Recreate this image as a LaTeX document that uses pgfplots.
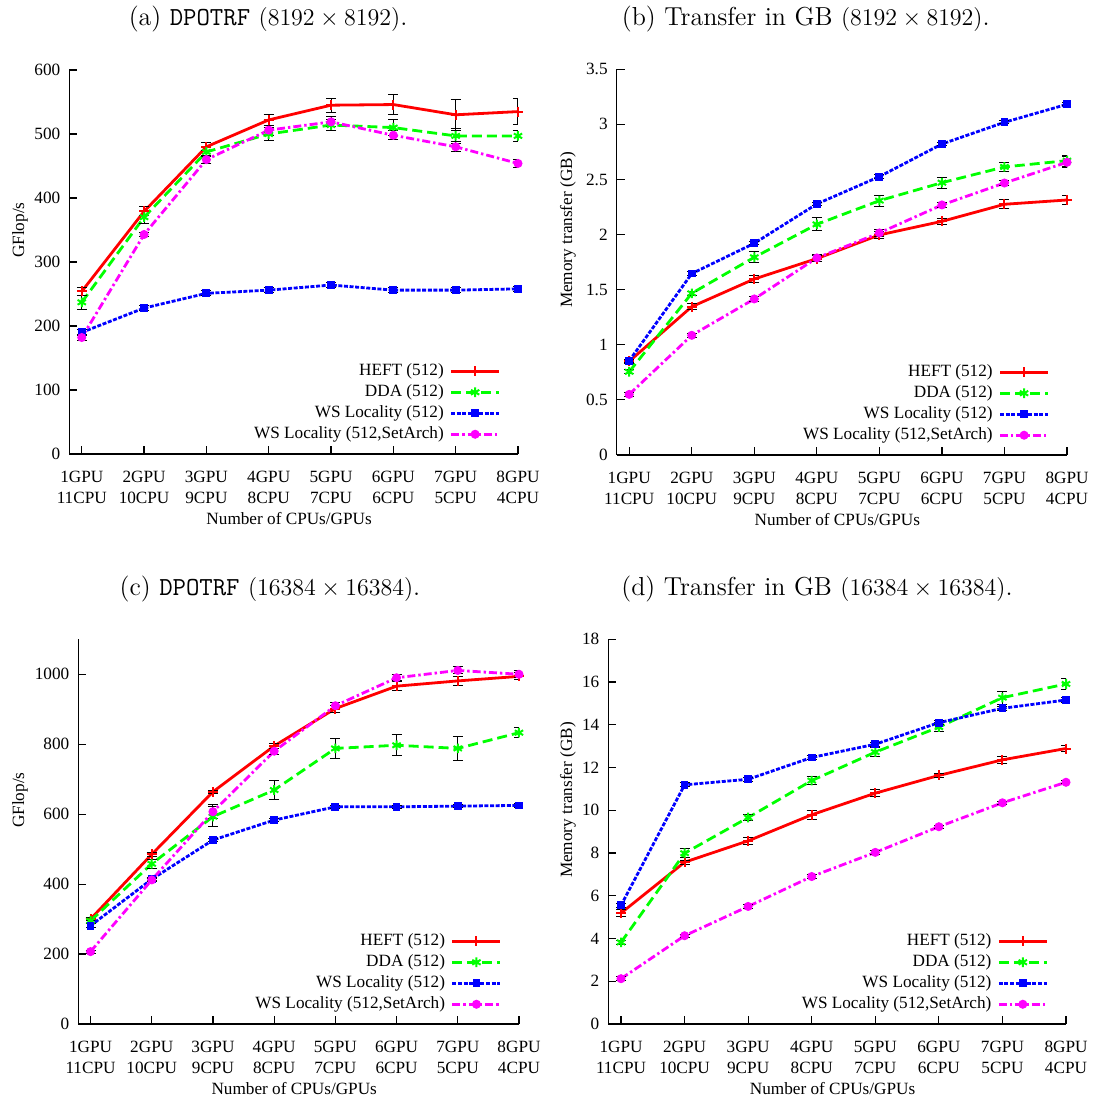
\documentclass[border=0pt]{standalone}
\usepackage{pgfplots}
\pgfplotsset{compat=1.18}
\usepackage{fontspec}
\newfontfamily\tms{Liberation Serif}
\newcommand\pf{\tms\fontsize{8.6}{10.35}\selectfont}
\newcommand\tf{\fontsize{13}{15.5}\selectfont}
\definecolor{gpred}{RGB}{255,0,0}
\definecolor{gpgreen}{RGB}{0,255,0}
\definecolor{gpblue}{RGB}{0,0,255}
\definecolor{gpmag}{RGB}{255,0,255}

\pgfplotsset{
  gp/.style={
    scale only axis,
    axis x line*=bottom, axis y line*=left,
    axis line style={line width=0.6pt,-},
    tick align=inside, major tick length=4pt,
    tick style={line width=0.6pt,black},
    xmin=-0.2, xmax=7, xtick={0,...,7},
    xticklabels={{1GPU\\11CPU},{2GPU\\10CPU},{3GPU\\9CPU},{4GPU\\8CPU},{5GPU\\7CPU},{6GPU\\6CPU},{7GPU\\5CPU},{8GPU\\4CPU}},
    xticklabel style={align=center,font=\pf,yshift=-5pt},
    yticklabel style={font=\pf,xshift=-1pt},
    label style={font=\pf},
    xlabel={Number of CPUs/GPUs},
    xlabel style={at={(axis description cs:0.49,0)},anchor=center,yshift=-32.5pt},
    title style={font=\tf,anchor=base,yshift=16pt},
    /pgf/number format/assume math mode=true,
    /pgf/number format/1000 sep={},
    error bars/y dir=both, error bars/y explicit,
    error bars/error bar style={black,line width=0.5pt,solid},
    error bars/error mark options={rotate=90,black,mark size=2.5pt,line width=0.5pt,solid},
    legend style={at={(0.962,0.023)},anchor=south east,draw=none,fill=none,font=\pf,
      inner sep=0pt,row sep=0pt,column sep=2pt,
      nodes={inner sep=1pt,text height=6.3pt,text depth=2.2pt}},
    legend cell align=right, legend plot pos=right,
    legend image code/.code={\draw[mark repeat=2,mark phase=2,##1] plot coordinates {(0pt,0pt) (12pt,0pt) (24pt,0pt)};},
  },
  heft/.style={color=gpred,line width=1.4pt,solid,mark=+,mark size=2.5pt,mark options={solid,line width=1pt}},
  dda/.style={color=gpgreen,line width=1.4pt,dash pattern=on 5pt off 2.5pt,mark=asterisk,mark size=2.4pt,mark options={solid,line width=1pt}},
  ws/.style={color=gpblue,line width=1.4pt,dash pattern=on 2pt off 0.8pt,mark=square*,mark size=1.7pt,mark options={solid,line width=0.5pt}},
  sa/.style={color=gpmag,line width=1.4pt,dash pattern=on 4pt off 1.5pt on 1.2pt off 1.5pt,mark=*,mark size=2pt,mark options={solid,line width=0.5pt}},
}

\begin{document}
\begin{tikzpicture}
\useasboundingbox (0,0) rectangle (547pt,550.5pt);

% (a)
\begin{axis}[gp, at={(34.65pt,323.5pt)}, anchor=south west, width=224.35pt, height=192pt,
  ymin=0, ymax=600, ytick={0,100,...,600}, ylabel={GFlop/s},
  ylabel style={at={(axis description cs:-0.1099,0.583)},anchor=center},
  title={(a) \texttt{DPOTRF} $(8192\times 8192)$.}, title style={at={(axis description cs:0.443,1)}}]
\addplot[heft] table[x=x,y=y,y error=e] {
x y e
0 254 6
1 379 7
2 480 6
3 522 8
4 545 11
5 546 15
6 530 24
7 535 20
};
\addlegendentry{HEFT (512)}
\addplot[dda] table[x=x,y=y,y error=e] {
x y e
0 237 11
1 370 10
2 472 7
3 500 10
4 514 8
5 510 12
6 497 12
7 497 8
};
\addlegendentry{DDA (512)}
\addplot[ws] table[x=x,y=y,y error=e] {
x y e
0 190 5
1 228 4
2 251 4
3 256 4
4 264 4
5 256 4
6 256 4
7 258 4
};
\addlegendentry{WS Locality (512)}
\addplot[sa] table[x=x,y=y,y error=e] {
x y e
0 182 4
1 343 3
2 460 6
3 506 8
4 519 8
5 498 7
6 480 8
7 454 6
};
\addlegendentry{WS Locality (512,SetArch)}
\end{axis}

% (b)
\begin{axis}[gp, at={(308.35pt,323pt)}, anchor=south west, width=225.15pt, height=192.85pt,
  ymin=0, ymax=3.5, ytick={0,0.5,...,3.5}, ylabel={Memory transfer (GB)},
  ylabel style={at={(axis description cs:-0.1081,0.583)},anchor=center},
  title={(b) Transfer in GB $(8192\times 8192)$.}, title style={at={(axis description cs:0.42,1)}}]
\addplot[heft] table[x=x,y=y,y error=e] {
x y e
0 0.85 0.02
1 1.346 0.03
2 1.597 0.03
3 1.782 0.03
4 1.997 0.03
5 2.12 0.03
6 2.275 0.04
7 2.314 0.04
};
\addlegendentry{HEFT (512)}
\addplot[dda] table[x=x,y=y,y error=e] {
x y e
0 0.755 0.02
1 1.467 0.02
2 1.794 0.05
3 2.093 0.06
4 2.308 0.05
5 2.471 0.05
6 2.614 0.04
7 2.671 0.05
};
\addlegendentry{DDA (512)}
\addplot[ws] table[x=x,y=y,y error=e] {
x y e
0 0.855 0.015
1 1.646 0.015
2 1.921 0.015
3 2.278 0.015
4 2.526 0.015
5 2.822 0.015
6 3.019 0.015
7 3.182 0.015
};
\addlegendentry{WS Locality (512)}
\addplot[sa] table[x=x,y=y,y error=e] {
x y e
0 0.55 0.015
1 1.086 0.02
2 1.416 0.02
3 1.788 0.03
4 2.015 0.03
5 2.269 0.02
6 2.468 0.02
7 2.656 0.05
};
\addlegendentry{WS Locality (512,SetArch)}
\end{axis}

% (c)
\begin{axis}[gp, at={(39.15pt,38.5pt)}, anchor=south west, width=220.35pt, height=192.35pt,
  ymin=0, ymax=1100, ytick={0,200,...,1000}, ylabel={GFlop/s},
  ylabel style={at={(axis description cs:-0.1323,0.582)},anchor=center},
  title={(c) \texttt{DPOTRF} $(16384\times 16384)$.}, title style={at={(axis description cs:0.435,1)}}]
\addplot[heft] table[x=x,y=y,y error=e] {
x y e
0 300 5
1 485 6
2 664 5
3 795 8
4 902 10
5 966 12
6 981 12
7 994 10
};
\addlegendentry{HEFT (512)}
\addplot[dda] table[x=x,y=y,y error=e] {
x y e
0 295 6
1 458 12
2 593 28
3 669 28
4 788 28
5 797 30
6 788 35
7 833 15
};
\addlegendentry{DDA (512)}
\addplot[ws] table[x=x,y=y,y error=e] {
x y e
0 281 5
1 414 5
2 526 5
3 583 5
4 621 5
5 621 5
6 623 5
7 625 5
};
\addlegendentry{WS Locality (512)}
\addplot[sa] table[x=x,y=y,y error=e] {
x y e
0 207 4
1 412 5
2 607 20
3 780 8
4 910 8
5 990 8
6 1011 10
7 1000 10
};
\addlegendentry{WS Locality (512,SetArch)}
\end{axis}

% (d)
\begin{axis}[gp, at={(304.15pt,38.5pt)}, anchor=south west, width=228.85pt, height=192.35pt,
  ymin=0, ymax=18, ytick={0,2,...,18}, ylabel={Memory transfer (GB)},
  ylabel style={at={(axis description cs:-0.088,0.582)},anchor=center},
  title={(d) Transfer in GB $(16384\times 16384)$.}, title style={at={(axis description cs:0.456,1)}}]
\addplot[heft] table[x=x,y=y,y error=e] {
x y e
0 5.19 0.15
1 7.57 0.1
2 8.57 0.15
3 9.79 0.2
4 10.8 0.15
5 11.63 0.1
6 12.36 0.15
7 12.89 0.12
};
\addlegendentry{HEFT (512)}
\addplot[dda] table[x=x,y=y,y error=e] {
x y e
0 3.82 0.1
1 7.99 0.2
2 9.66 0.15
3 11.39 0.2
4 12.72 0.2
5 13.89 0.2
6 15.27 0.3
7 15.91 0.25
};
\addlegendentry{DDA (512)}
\addplot[ws] table[x=x,y=y,y error=e] {
x y e
0 5.55 0.1
1 11.19 0.1
2 11.45 0.1
3 12.47 0.1
4 13.09 0.1
5 14.1 0.1
6 14.77 0.1
7 15.16 0.1
};
\addlegendentry{WS Locality (512)}
\addplot[sa] table[x=x,y=y,y error=e] {
x y e
0 2.12 0.08
1 4.13 0.08
2 5.5 0.08
3 6.9 0.08
4 8.03 0.08
5 9.23 0.08
6 10.35 0.08
7 11.31 0.08
};
\addlegendentry{WS Locality (512,SetArch)}
\end{axis}
\end{tikzpicture}
\end{document}
